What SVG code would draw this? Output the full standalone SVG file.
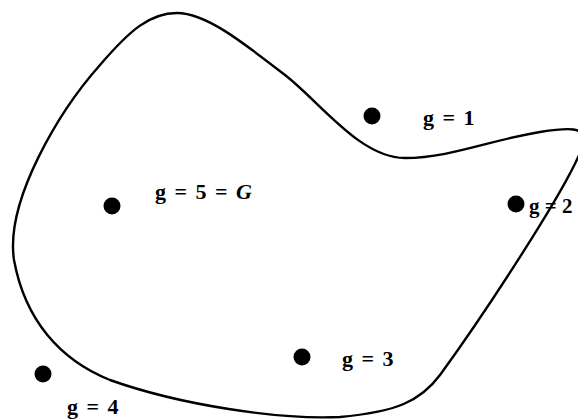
<svg xmlns="http://www.w3.org/2000/svg" width="578" height="420" viewBox="0 0 578 420">
<style>
.lbl{font-family:"Liberation Serif","Times New Roman",serif;font-weight:bold;font-size:22px;word-spacing:3px;fill:#000}
.dot{fill:#000}
.curve{fill:none;stroke:#000;stroke-width:2.4}
</style>
<rect width="578" height="420" fill="#fff"/>
<g id="region">
<path class="curve" d="M177,13 C205,13 240,40 285,75 C320,102 360,158 405,158 C450,158 490,140 540,132 C565,128 590,125 583,145 C570,185 480,320 440,375 C420,402 395,412 340,417 C280,420 180,405 110,380 C60,360 25,320 14,260 C5,200 60,110 100,65 C130,30 150,13 177,13 Z"/>
</g>
<g id="g1"><circle class="dot" cx="372" cy="116" r="8.5"/><text class="lbl" x="423" y="125">g = 1</text></g>
<g id="g2"><circle class="dot" cx="516" cy="204" r="8.5"/><text class="lbl" x="529" y="213" style="word-spacing:0;font-size:21px">g = 2</text></g>
<g id="g3"><circle class="dot" cx="302" cy="357" r="8.5"/><text class="lbl" x="342" y="366">g = 3</text></g>
<g id="g4"><circle class="dot" cx="43" cy="374" r="8.5"/><text class="lbl" x="67" y="414">g = 4</text></g>
<g id="g5"><circle class="dot" cx="112" cy="206" r="8.5"/><text class="lbl" x="155" y="199">g = 5 = <tspan font-style="italic">G</tspan></text></g>
</svg>
